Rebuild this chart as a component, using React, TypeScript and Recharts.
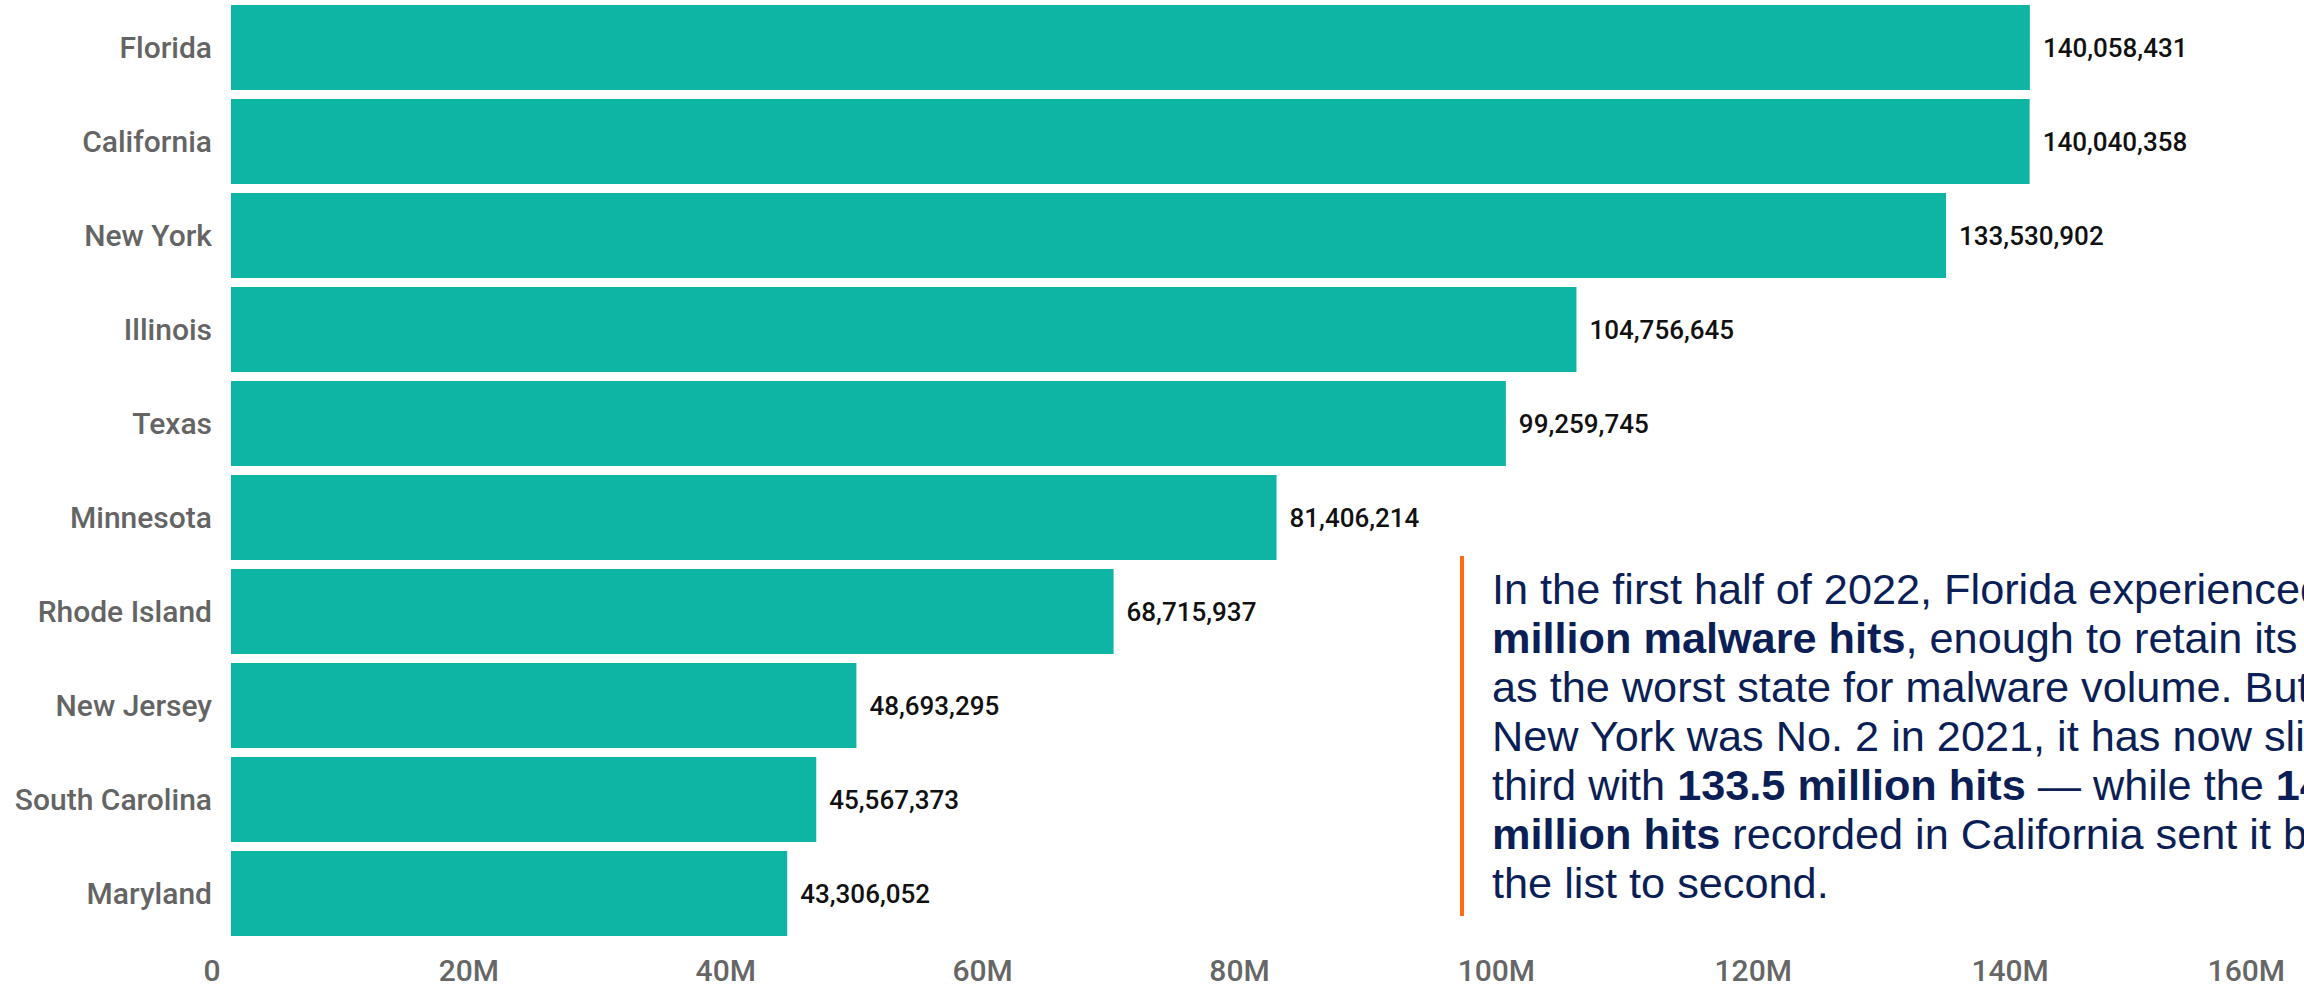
import React from "react";
import { Bar, BarChart, LabelList, XAxis, YAxis } from "recharts";

const states = [
  "Florida",
  "California",
  "New York",
  "Illinois",
  "Texas",
  "Minnesota",
  "Rhode Island",
  "New Jersey",
  "South Carolina",
  "Maryland",
];

const hits = [
  140058431, 140040358, 133530902, 104756645, 99259745, 81406214, 68715937, 48693295, 45567373,
  43306052,
];

const xTicks = [0, 20e6, 40e6, 60e6, 80e6, 100e6, 120e6, 140e6, 160e6];

// callout lines, each a list of [text, bold] runs; the right edge crops them like the original
const noteLines: [string, boolean][][] = [
  [["In the first half of 2022, Florida experienced ", false], ["140.1", true]],
  [["million malware hits", true], [", enough to retain its position", false]],
  [["as the worst state for malware volume. But while", false]],
  [["New York was No. 2 in 2021, it has now slipped to", false]],
  [["third with ", false], ["133.5 million hits", true], [" \u2014 while the ", false], ["140", true]],
  [["million hits", true], [" recorded in California sent it back up", false]],
  [["the list to second.", false]],
];

const TEAL = "#0FB5A4";
const NAVY = "#0B1F56";
const ORANGE = "#FF6A13";
const LABEL_FONT = "Roboto, 'Noto Sans', sans-serif";

const data = states.map((state, i) => ({ state, hits: hits[i] }));

const fmtTick = (v: number) => (v === 0 ? "0" : `${v / 1e6}M`);

export default function App() {
  return (
    <div
      style={{
        position: "absolute",
        left: 0,
        top: 0,
        width: 2304,
        height: 994,
        overflow: "hidden",
        background: "#fff",
      }}
    >
      <BarChart
        width={2304}
        height={994}
        data={data}
        layout="vertical"
        margin={{ top: 0, right: 18, bottom: 0, left: 0 }}
      >
        <XAxis
          type="number"
          domain={[0, 160e6]}
          ticks={xTicks}
          tickFormatter={fmtTick}
          axisLine={false}
          tickLine={false}
          tickSize={0}
          tickMargin={20}
          height={54}
          tick={{ fill: "#666", fontSize: 30, fontWeight: 500, fontFamily: LABEL_FONT, dx: -19 }}
        />
        <YAxis
          type="category"
          dataKey="state"
          width={231}
          axisLine={false}
          tickLine={false}
          tickSize={0}
          tickMargin={19}
          tick={{ fill: "#646464", fontSize: 30, fontWeight: 500, fontFamily: LABEL_FONT }}
        />
        <Bar dataKey="hits" fill={TEAL} barSize={85} isAnimationActive={false}>
          <LabelList
            dataKey="hits"
            position="right"
            offset={13}
            formatter={(v: number) => Number(v).toLocaleString("en-US")}
            style={{ fill: "#111", fontSize: 26, fontWeight: 500, fontFamily: LABEL_FONT }}
          />
        </Bar>
      </BarChart>

      <div
        style={{
          position: "absolute",
          left: 1460,
          top: 556,
          width: 4,
          height: 360,
          background: ORANGE,
        }}
      />
      <div
        style={{
          position: "absolute",
          left: 1492,
          top: 565,
          fontFamily: "'Liberation Sans', Arial, sans-serif",
          fontSize: 42,
          lineHeight: "49px",
          color: NAVY,
          whiteSpace: "nowrap",
          transform: "scaleX(1.03)",
          transformOrigin: "left top",
        }}
      >
        {noteLines.map((runs, i) => (
          <div key={i}>
            {runs.map(([t, b], j) => (
              <span key={j} style={{ fontWeight: b ? 700 : 400 }}>
                {t}
              </span>
            ))}
          </div>
        ))}
      </div>
    </div>
  );
}
